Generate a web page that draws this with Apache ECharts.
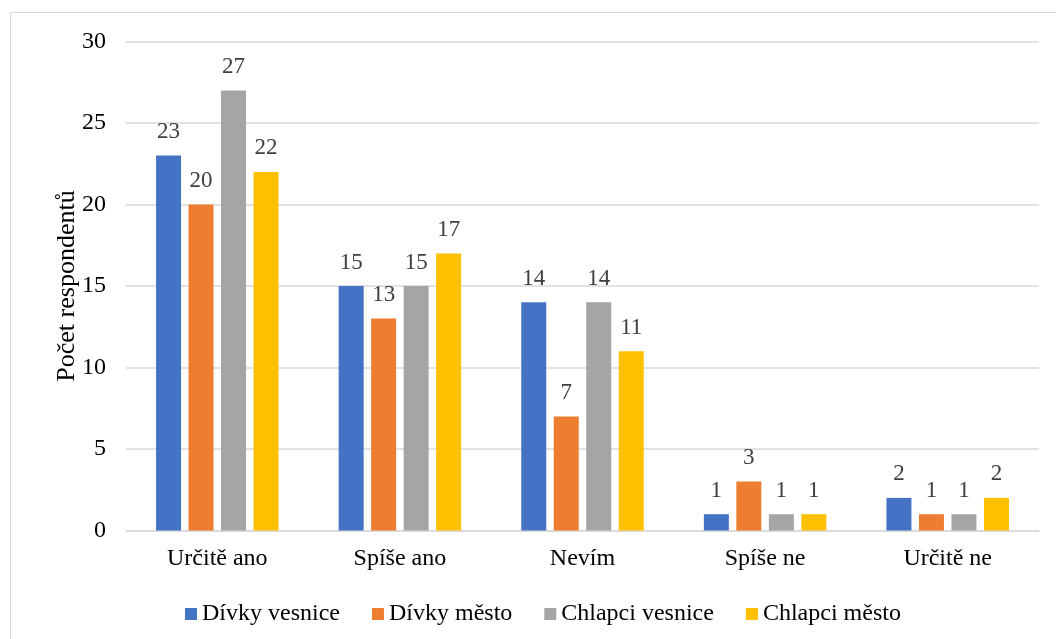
<!DOCTYPE html>
<html><head><meta charset="utf-8">
<script src="https://cdn.jsdelivr.net/npm/echarts@6/dist/echarts.min.js"></script>
<style>html,body{margin:0;padding:0;background:#fff}#c{width:1056px;height:639px}</style>
</head><body><div id="c"></div>
<script>
const categories = ['Určitě ano', 'Spíše ano', 'Nevím', 'Spíše ne', 'Určitě ne'];
const divkyVesnice = [23, 15, 14, 1, 2];
const divkyMesto = [20, 13, 7, 3, 1];
const chlapciVesnice = [27, 15, 14, 1, 1];
const chlapciMesto = [22, 17, 11, 1, 2];
const seriesNames = ['Dívky vesnice', 'Dívky město', 'Chlapci vesnice', 'Chlapci město'];
const colors = ['#4472C4', '#ED7D31', '#A5A5A5', '#FFC000'];
const font = 'Liberation Serif';

const chart = echarts.init(document.getElementById('c'));
const mk = (name, data, color) => ({
  name, type: 'bar', data, barWidth: 25, barGap: '30%',
  itemStyle: { color },
  label: { show: true, position: 'top', distance: 12, color: '#404040', fontFamily: font, fontSize: 23 }
});
chart.setOption({
  animation: false,
  textStyle: { fontFamily: font },
  graphic: [{ type: 'rect', shape: { x: 10.5, y: 12.5, width: 1060, height: 640 }, style: { fill: 'none', stroke: '#d9d9d9', lineWidth: 1 } }],
  grid: { left: 126, right: 17, top: 41.5, bottom: 108.5 },
  legend: {
    top: 597, left: 180, itemWidth: 12, itemHeight: 12, itemGap: 32,
    icon: 'rect',
    textStyle: { fontFamily: font, fontSize: 24, color: '#000' },
    data: seriesNames
  },
  xAxis: {
    type: 'category', data: categories,
    axisLine: { lineStyle: { color: '#d9d9d9', width: 1.5 } },
    axisTick: { show: false },
    axisLabel: { fontFamily: font, fontSize: 24, color: '#000', margin: 16 }
  },
  yAxis: {
    type: 'value', min: 0, max: 30, interval: 5,
    name: 'Počet respondentů', nameLocation: 'middle', nameGap: 46, nameRotate: 90,
    nameMoveOverlap: false,
    nameTextStyle: { fontFamily: font, fontSize: 26, color: '#000' },
    splitLine: { lineStyle: { color: '#d9d9d9', width: 1.5 } },
    axisLabel: { fontFamily: font, fontSize: 24, color: '#000', margin: 20 }
  },
  series: [
    mk(seriesNames[0], divkyVesnice, colors[0]),
    mk(seriesNames[1], divkyMesto, colors[1]),
    mk(seriesNames[2], chlapciVesnice, colors[2]),
    mk(seriesNames[3], chlapciMesto, colors[3])
  ]
});
</script></body></html>
